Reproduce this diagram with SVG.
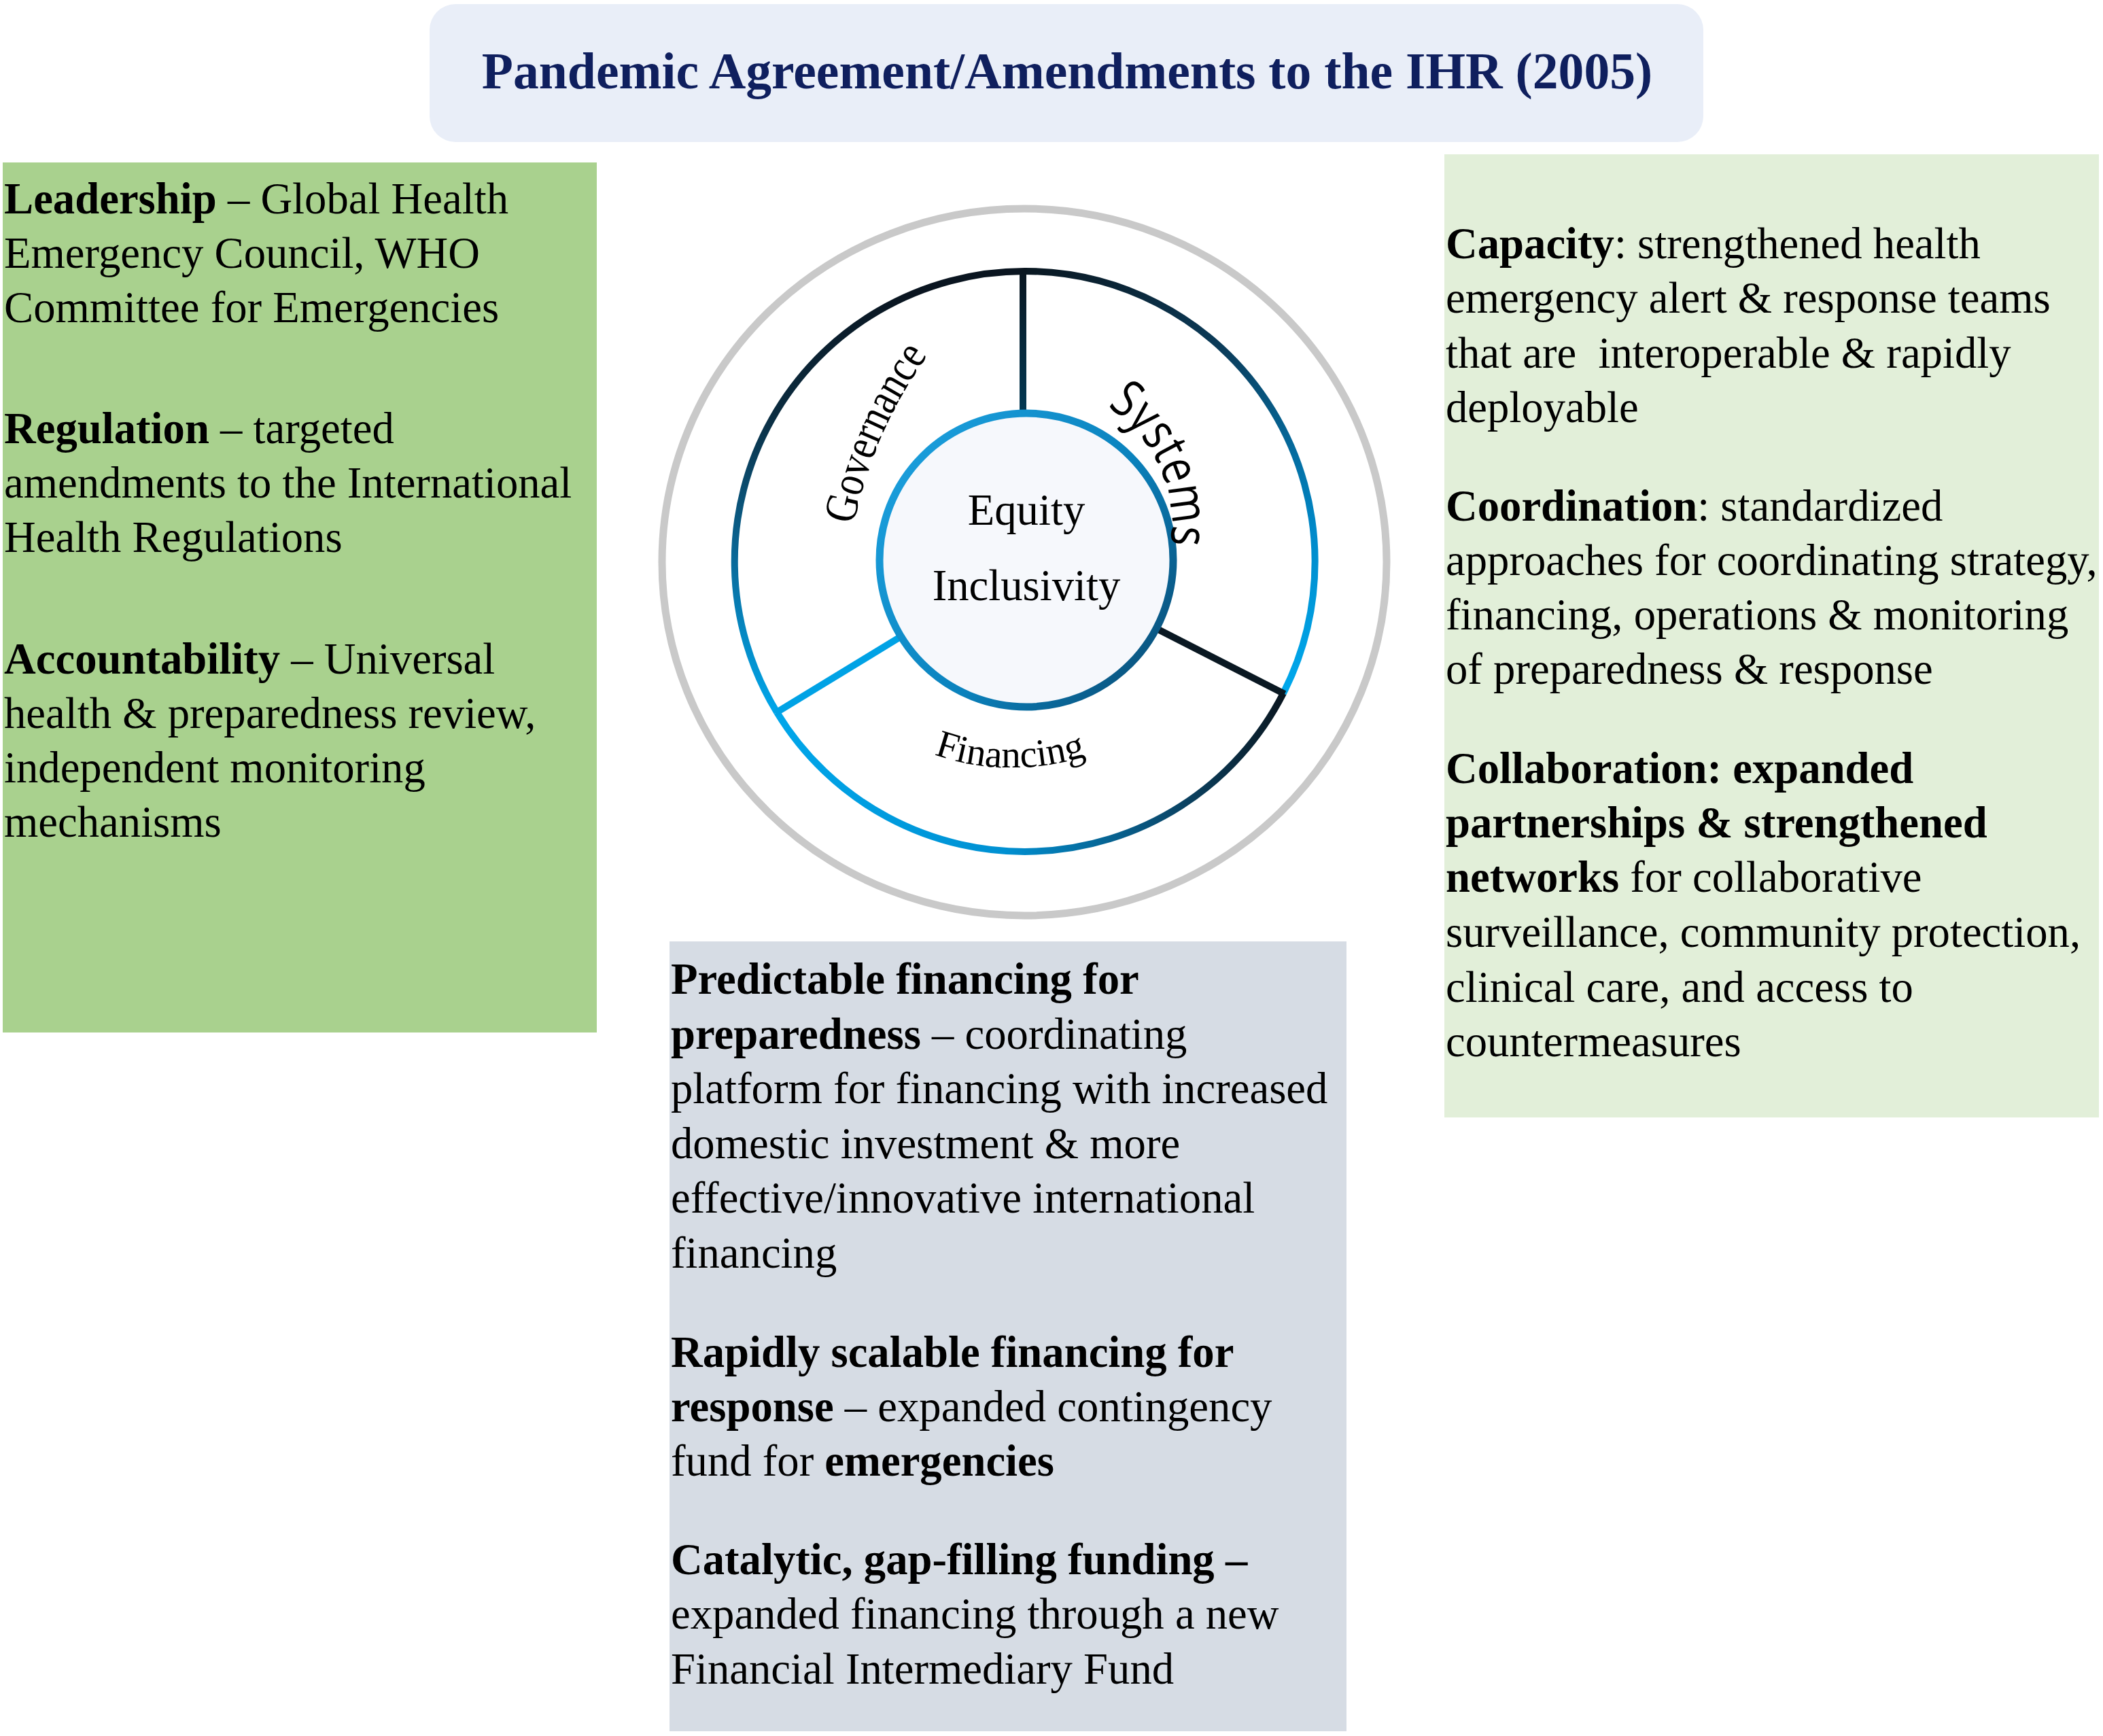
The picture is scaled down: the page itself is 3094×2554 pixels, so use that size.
<svg xmlns="http://www.w3.org/2000/svg" width="3094" height="2554" viewBox="0 0 3094 2554">
<defs>
<style>
.t{font-family:"Liberation Serif","Times New Roman",serif;font-size:64.7px;fill:#000}
.b{font-weight:bold}
.lbl{font-family:"Liberation Serif","Times New Roman",serif;fill:#000}
</style>
<linearGradient id="gGov" gradientUnits="userSpaceOnUse" x1="1330" y1="430" x2="1143" y2="1048">
<stop offset="0" stop-color="#0a1520"/><stop offset="0.35" stop-color="#0b2c40"/><stop offset="0.7" stop-color="#0a6a9a"/><stop offset="1" stop-color="#00a6ea"/>
</linearGradient>
<linearGradient id="gSys" gradientUnits="userSpaceOnUse" x1="1508" y1="399" x2="1888" y2="1020">
<stop offset="0" stop-color="#0a1822"/><stop offset="0.35" stop-color="#0b3d5c"/><stop offset="0.75" stop-color="#0089c9"/><stop offset="1" stop-color="#00a8ec"/>
</linearGradient>
<linearGradient id="gFin" gradientUnits="userSpaceOnUse" x1="1143" y1="1100" x2="1888" y2="1100">
<stop offset="0" stop-color="#00a6ea"/><stop offset="0.45" stop-color="#0090d2"/><stop offset="0.75" stop-color="#0a4f75"/><stop offset="1" stop-color="#0a1620"/>
</linearGradient>
<linearGradient id="gIn" gradientUnits="userSpaceOnUse" x1="1290" y1="680" x2="1730" y2="1000">
<stop offset="0" stop-color="#1ca0de"/><stop offset="0.55" stop-color="#0a82bd"/><stop offset="1" stop-color="#0a4a72"/>
</linearGradient>
<linearGradient id="gTop" gradientUnits="userSpaceOnUse" x1="0" y1="399" x2="0" y2="612">
<stop offset="0" stop-color="#0a1620"/><stop offset="1" stop-color="#033a55"/>
</linearGradient>
<path id="pGov" d="M 1256 772 A 650 650 0 0 1 1366 521"/>
<path id="pSys" d="M 1629 598 A 206 206 0 0 1 1722 800"/>
<path id="pFin" d="M 1374 1110 Q 1482 1148 1600 1112"/>
</defs>
<rect width="3094" height="2554" fill="#ffffff"/>

<g id="title">
<rect x="632" y="6" width="1874" height="203" rx="38" fill="#e9eef8"/>
<text x="1570" y="130" text-anchor="middle" font-family="'Liberation Serif','Times New Roman',serif" font-weight="bold" font-size="75.6" fill="#0f1f5e">Pandemic Agreement/Amendments to the IHR (2005)</text>
</g>

<g id="governance-box">
<rect x="4" y="239" width="874" height="1280" fill="#a9d18e"/>
<text class="t" x="6" y="314"><tspan class="b">Leadership</tspan> – Global Health</text>
<text class="t" x="6" y="394">Emergency Council, WHO</text>
<text class="t" x="6" y="474">Committee for Emergencies</text>
<text class="t" x="6" y="652"><tspan class="b">Regulation</tspan> – targeted</text>
<text class="t" x="6" y="732">amendments to the International</text>
<text class="t" x="6" y="812">Health Regulations</text>
<text class="t" x="6" y="991"><tspan class="b">Accountability</tspan> – Universal</text>
<text class="t" x="6" y="1071">health &amp; preparedness review,</text>
<text class="t" x="6" y="1151">independent monitoring</text>
<text class="t" x="6" y="1231">mechanisms</text>
</g>

<g id="systems-box">
<rect x="2125" y="227" width="963" height="1417" fill="#e2efd9"/>
<text class="t" x="2127" y="380"><tspan class="b">Capacity</tspan>: strengthened health</text>
<text class="t" x="2127" y="460">emergency alert &amp; response teams</text>
<text class="t" x="2127" y="541" xml:space="preserve">that are  interoperable &amp; rapidly</text>
<text class="t" x="2127" y="621">deployable</text>
<text class="t" x="2127" y="766"><tspan class="b">Coordination</tspan>: standardized</text>
<text class="t" x="2127" y="846">approaches for coordinating strategy,</text>
<text class="t" x="2127" y="926">financing, operations &amp; monitoring</text>
<text class="t" x="2127" y="1006">of preparedness &amp; response</text>
<text class="t b" x="2127" y="1152">Collaboration: expanded</text>
<text class="t b" x="2127" y="1232">partnerships &amp; strengthened</text>
<text class="t" x="2127" y="1312"><tspan class="b">networks</tspan> for collaborative</text>
<text class="t" x="2127" y="1393">surveillance, community protection,</text>
<text class="t" x="2127" y="1474">clinical care, and access to</text>
<text class="t" x="2127" y="1554">countermeasures</text>
</g>

<g id="financing-box">
<rect x="985" y="1385" width="996" height="1162" fill="#d6dce4"/>
<text class="t b" x="987" y="1462">Predictable financing for</text>
<text class="t" x="987" y="1543"><tspan class="b">preparedness</tspan> – coordinating</text>
<text class="t" x="987" y="1623">platform for financing with increased</text>
<text class="t" x="987" y="1704">domestic investment &amp; more</text>
<text class="t" x="987" y="1784">effective/innovative international</text>
<text class="t" x="987" y="1865">financing</text>
<text class="t b" x="987" y="2011">Rapidly scalable financing for</text>
<text class="t" x="987" y="2091"><tspan class="b">response</tspan> – expanded contingency</text>
<text class="t" x="987" y="2171">fund for <tspan class="b">emergencies</tspan></text>
<text class="t b" x="987" y="2316">Catalytic, gap-filling funding –</text>
<text class="t" x="987" y="2396">expanded financing through a new</text>
<text class="t" x="987" y="2477">Financial Intermediary Fund</text>
</g>

<g id="wheel">
<ellipse cx="1507" cy="827" rx="533" ry="520" fill="none" stroke="#c9c9c9" stroke-width="11"/>
<circle cx="1508" cy="826" r="427" fill="#ffffff"/>
<path d="M 1508 399 A 427 427 0 0 0 1143 1048" fill="none" stroke="url(#gGov)" stroke-width="10"/>
<path d="M 1508 399 A 427 427 0 0 1 1888 1020" fill="none" stroke="url(#gSys)" stroke-width="10"/>
<path d="M 1143 1048 A 427 427 0 0 0 1888 1020" fill="none" stroke="url(#gFin)" stroke-width="10"/>
<line x1="1505" y1="396" x2="1505" y2="612" stroke="url(#gTop)" stroke-width="10"/>
<line x1="1700" y1="924" x2="1890" y2="1021" stroke="#0a1822" stroke-width="10"/>
<line x1="1323" y1="938" x2="1141" y2="1049" stroke="#00a2e5" stroke-width="10"/>
<g id="equity-node">
<circle cx="1510" cy="824" r="216" fill="#f6f8fc" stroke="url(#gIn)" stroke-width="11"/>
<text class="lbl" x="1510" y="772" text-anchor="middle" font-size="64.7">Equity</text>
<text class="lbl" x="1510" y="883" text-anchor="middle" font-size="64.7">Inclusivity</text>
</g>
<g id="governance-label">
<text class="lbl" font-size="68"><textPath href="#pGov" textLength="274" lengthAdjust="spacingAndGlyphs">Governance</textPath></text>
</g>
<g id="systems-label">
<text font-family="'Open Sans','Liberation Sans',sans-serif" font-size="76" fill="#000"><textPath href="#pSys" textLength="236" lengthAdjust="spacingAndGlyphs">Systems</textPath></text>
</g>
<g id="financing-label">
<text class="lbl" font-size="57"><textPath href="#pFin">Financing</textPath></text>
</g>
</g>
<g id="connectors"/>
</svg>
